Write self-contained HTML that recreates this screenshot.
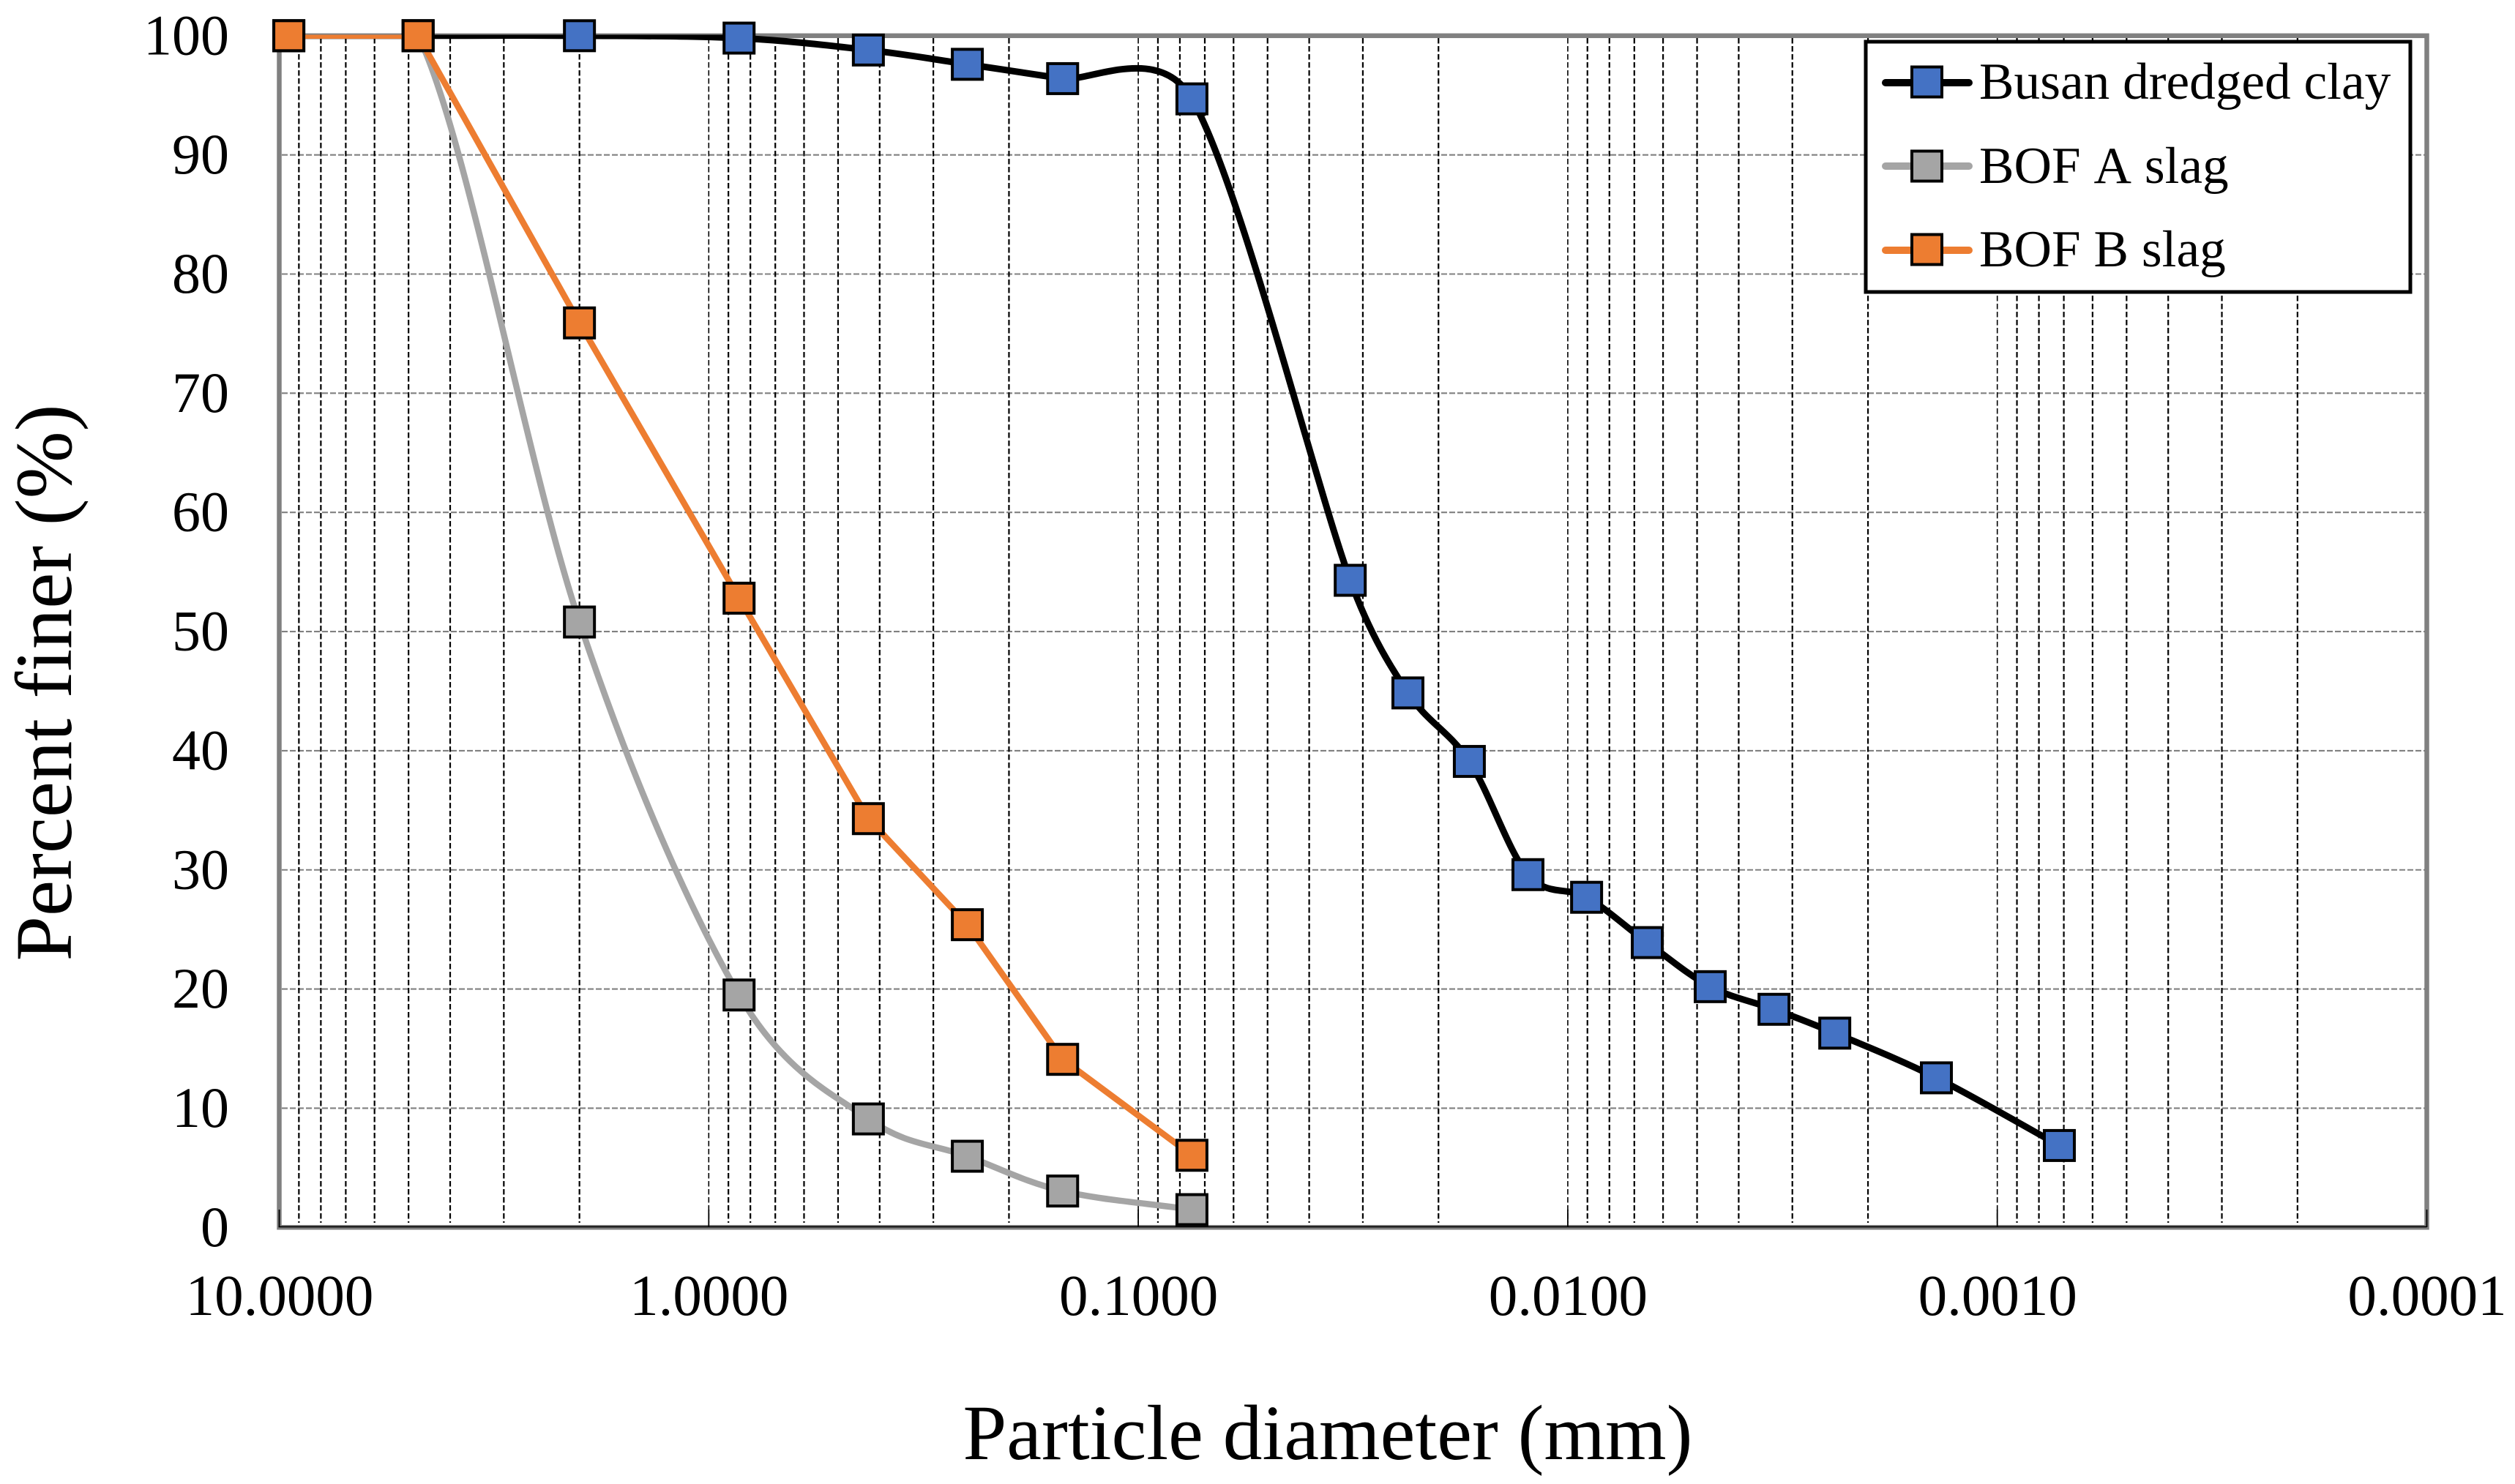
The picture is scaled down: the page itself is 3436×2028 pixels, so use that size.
<!DOCTYPE html>
<html lang="en">
<head>
<meta charset="utf-8">
<title>Particle size distribution</title>
<style>
html,body{margin:0;padding:0;background:#fff}
svg{display:block}
text{font-family:"Liberation Serif",serif;fill:#000}
.nokern{font-kerning:none;font-variant-ligatures:none}
</style>
</head>
<body>
<svg id="chart" xmlns="http://www.w3.org/2000/svg" width="3436" height="2028" viewBox="0 0 3436 2028">
  <rect x="0" y="0" width="3436" height="2028" fill="#fff"/>
  <defs>
    <clipPath id="plot-clip"><rect x="378" y="47.5" width="2941" height="1634"/></clipPath>
  </defs>
  <g id="grid"></g>
  <g id="axes"></g>
  <g id="series"></g>
  <g id="ticklabels"></g>
  <text class="nokern" transform="translate(97,933) rotate(-90)" text-anchor="middle" font-size="110.5">Percent finer (%)</text>
  <text class="nokern" x="1814" y="1994" text-anchor="middle" font-size="107.5">Particle diameter (mm)</text>
  <g>
    <rect x="2549" y="57" width="744" height="342" fill="#fff" stroke="#000" stroke-width="5"/>
    <g>
      <line x1="2576" y1="113" x2="2690" y2="113" stroke="#000" stroke-width="10" stroke-linecap="round"/>
      <rect x="2612" y="91.5" width="41" height="41" fill="#4472C4" stroke="#000" stroke-width="4"/>
      <text class="nokern" x="2704" y="135" font-size="71.3">Busan dredged clay</text>
    </g>
    <g>
      <line x1="2576" y1="227" x2="2690" y2="227" stroke="#A5A5A5" stroke-width="10" stroke-linecap="round"/>
      <rect x="2612" y="206.5" width="41" height="41" fill="#A5A5A5" stroke="#000" stroke-width="4"/>
      <text class="nokern" x="2704" y="250" font-size="71.3">BOF A slag</text>
    </g>
    <g>
      <line x1="2576" y1="342" x2="2690" y2="342" stroke="#ED7D31" stroke-width="10" stroke-linecap="round"/>
      <rect x="2612" y="320.5" width="41" height="41" fill="#ED7D31" stroke="#000" stroke-width="4"/>
      <text class="nokern" x="2704" y="364" font-size="71.3">BOF B slag</text>
    </g>
  </g>
</svg>
<script>
// Chart data
const busanDiameters = [9.5, 4.75, 2.0, 0.85, 0.425, 0.25, 0.15, 0.075, 0.0321, 0.02356, 0.01695, 0.01238, 0.00904, 0.00653, 0.00466, 0.00331, 0.00239, 0.001386, 0.000717];
const busanFiner = [100, 100, 100, 99.8, 98.8, 97.6, 96.4, 94.7, 54.3, 44.85, 39.1, 29.6, 27.7, 23.9, 20.2, 18.3, 16.3, 12.55, 6.87];
const slagDiameters = [9.5, 4.75, 2.0, 0.85, 0.425, 0.25, 0.15, 0.075];
const bofAFiner = [100, 100, 50.8, 19.5, 9.1, 5.97, 3.05, 1.49];
const bofBFiner = [100, 100, 75.9, 52.8, 34.3, 25.4, 14.1, 6.05];
const yTickValues = [0, 10, 20, 30, 40, 50, 60, 70, 80, 90, 100];
const xTickValues = [10, 1, 0.1, 0.01, 0.001, 0.0001];
const xTickLabels = ["10.0000", "1.0000", "0.1000", "0.0100", "0.0010", "0.0001"];
const minorMultipliers = [2, 3, 4, 5, 6, 7, 8, 9];

const NS = "http://www.w3.org/2000/svg";
const PLOT = { left: 381.5, right: 3315.5, top: 48.8, bottom: 1677.3 };
const X_MAX_LOG = 1, X_MIN_LOG = -4;

function xScale(d) {
  return PLOT.left + (X_MAX_LOG - Math.log10(d)) / (X_MAX_LOG - X_MIN_LOG) * (PLOT.right - PLOT.left);
}
function yScale(v) {
  return PLOT.bottom - v / 100 * (PLOT.bottom - PLOT.top);
}
function make(tag, props) {
  const el = document.createElementNS(NS, tag);
  for (const k in props) el.setAttribute(k, props[k]);
  return el;
}
function dist(a, b) { return Math.hypot(a[0] - b[0], a[1] - b[1]); }

// Straight segments between points
function straightPath(pts) {
  return pts.map(function (p, i) {
    return (i === 0 ? "M" : "L") + p[0].toFixed(2) + " " + p[1].toFixed(2);
  }).join(" ");
}

// Spreadsheet-style smoothed line through the points
function smoothPath(pts) {
  let d = "M" + pts[0][0].toFixed(2) + " " + pts[0][1].toFixed(2);
  for (let i = 0; i < pts.length - 1; i++) {
    const first = i === 0, last = i === pts.length - 2;
    const p0 = first ? pts[0] : pts[i - 1];
    const p1 = pts[i], p2 = pts[i + 1];
    const p3 = last ? pts[i + 1] : pts[i + 2];
    const d12 = dist(p1, p2), d02 = dist(p0, p2), d13 = dist(p1, p3);
    let f1, f2;
    const a = d02 / 6 < d12 / 2, b = d13 / 6 < d12 / 2;
    if (a && b) {
      f1 = first ? 1 / 3 : 1 / 6;
      f2 = last ? 1 / 3 : 1 / 6;
    } else if (!a && !b) {
      f1 = d12 / (2 * d02);
      f2 = d12 / (2 * d13);
    } else if (!a) {
      f1 = d12 / (2 * d02);
      f2 = d12 / (2 * d02);
    } else {
      f1 = d12 / (2 * d13);
      f2 = d12 / (2 * d13);
    }
    const c1 = [p1[0] + (p2[0] - p0[0]) * f1, p1[1] + (p2[1] - p0[1]) * f1];
    const c2 = [p2[0] - (p3[0] - p1[0]) * f2, p2[1] - (p3[1] - p1[1]) * f2];
    d += " C" + c1[0].toFixed(2) + " " + c1[1].toFixed(2) + " " + c2[0].toFixed(2) + " " + c2[1].toFixed(2) + " " + p2[0].toFixed(2) + " " + p2[1].toFixed(2);
  }
  return d;
}

const grid = document.getElementById("grid");
const axes = document.getElementById("axes");
const seriesLayer = document.getElementById("series");
const tickLayer = document.getElementById("ticklabels");

// Horizontal gridlines
yTickValues.forEach(function (v) {
  if (v === 0 || v === 100) return;
  const y = yScale(v);
  const line = make("line", { x1: PLOT.left + 3.5, x2: PLOT.right - 3, y1: y, y2: y, stroke: "#808080", "stroke-width": 2.1, "stroke-dasharray": "8 3" });
  
  
  grid.appendChild(line);
});

// Vertical gridlines (major + minor on a log scale)
xTickValues.forEach(function (major, idx) {
  if (idx === xTickValues.length - 1) return;
  const decade = major / 10;
  const values = [decade];
  minorMultipliers.forEach(function (m) {
    values.push(decade * m);
  });
  values.forEach(function (d, j) {
    if (j === 0 && idx === xTickValues.length - 2) return;
    const x = xScale(d);
    const line = make("line", { x1: x, x2: x, y1: 52, y2: 1671, stroke: "#000", "stroke-width": j === 0 ? 1.6 : 2.2, "stroke-dasharray": "7.5 3.5" });
    
    
    grid.appendChild(line);
  });
});

// Plot frame
const frame = make("rect", { x: PLOT.left, y: PLOT.top, width: PLOT.right - PLOT.left, height: PLOT.bottom - PLOT.top, fill: "none", stroke: "#808080", "stroke-width": 6.5 });


axes.appendChild(frame);

const xAxisLine = make("line", { x1: PLOT.left - 1, x2: PLOT.right, y1: PLOT.bottom - 0.8, y2: PLOT.bottom - 0.8, stroke: "#000", "stroke-width": 1.8 });


axes.appendChild(xAxisLine);

// X ticks + tick labels
xTickValues.forEach(function (d, i) {
  const x = xScale(d);
  const tick = make("line", { x1: x, x2: x, y1: 1653, y2: 1677, stroke: "#000", "stroke-width": 1.8 });
  
  
  axes.appendChild(tick);
  const label = make("text", { x: x + 0.5, y: 1797, "text-anchor": "middle", "font-size": 79 });
  
  
  label.textContent = xTickLabels[i];
  tickLayer.appendChild(label);
});

// Y tick labels
yTickValues.forEach(function (v) {
  const label = make("text", { x: 313, y: yScale(v) + 25.5, "text-anchor": "end", "font-size": 78 });
  
  
  label.textContent = String(v);
  tickLayer.appendChild(label);
});

// Series
function drawSeries(name, diameters, finer, stroke, fill, width, smooth) {
  const group = make("g", {});
  
  
  const pts = diameters.map(function (d, i) { return [xScale(d), yScale(finer[i])]; });
  const path = make("path", { d: smooth ? smoothPath(pts) : straightPath(pts), fill: "none", stroke: stroke, "stroke-width": width, "stroke-linejoin": "round", "clip-path": "url(#plot-clip)" });
  
  
  group.appendChild(path);
  pts.forEach(function (p) {
    const r = make("rect", { x: p[0] - 20.5, y: p[1] - 20.5, width: 41, height: 41, fill: fill, stroke: "#000", "stroke-width": 4 });
    
    
    group.appendChild(r);
  });
  seriesLayer.appendChild(group);
}
drawSeries("busan-dredged-clay", busanDiameters, busanFiner, "#000000", "#4472C4", 9, true);
drawSeries("bof-a-slag", slagDiameters, bofAFiner, "#A5A5A5", "#A5A5A5", 8.5, true);
drawSeries("bof-b-slag", slagDiameters, bofBFiner, "#ED7D31", "#ED7D31", 8.5, false);
</script>
</body>
</html>
